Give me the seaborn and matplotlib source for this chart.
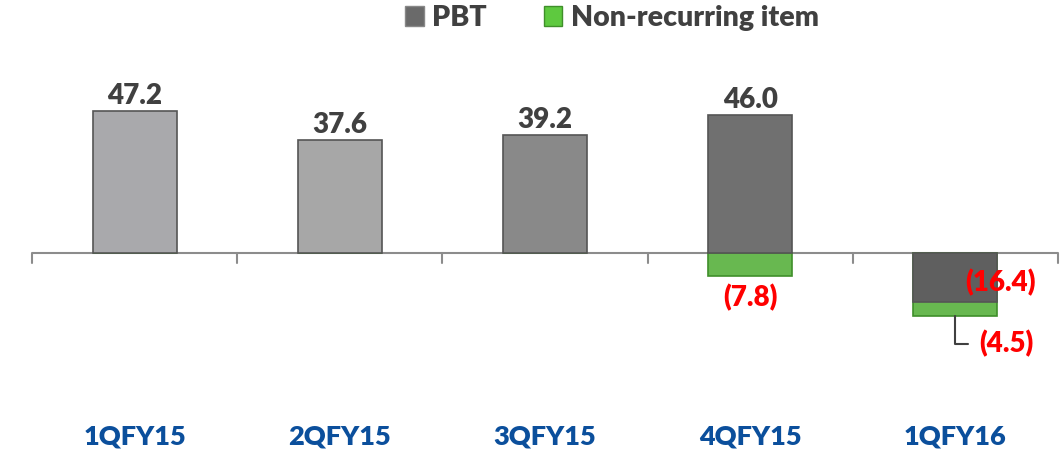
import matplotlib
matplotlib.use("Agg")
import matplotlib.pyplot as plt
from matplotlib.patches import Patch
import seaborn as sns
import pandas as pd
import numpy as np

categories = ["1QFY15", "2QFY15", "3QFY15", "4QFY15", "1QFY16"]
pbt = [47.2, 37.6, 39.2, 46.0, -16.4]
non_recurring = [0.0, 0.0, 0.0, -7.8, -4.5]
pbt_colors = ["#a9a9ac", "#a7a7a7", "#898989", "#707070", "#5f5f5f"]
green = "#5ec93f"

sns.set_theme(style="white")
plt.rcParams['font.family'] = ['Lato', 'DejaVu Sans']

df = pd.DataFrame({"cat": categories, "pbt": pbt, "nr": non_recurring})
df["nr_total"] = np.minimum(df["pbt"], 0) + df["nr"]

fig = plt.figure(figsize=(10.64, 4.54), dpi=100)
ax = fig.add_axes([32/1064, 1-400/454, (1058-32)/1064, (400-30)/454])

# green (non-recurring) stacked under the zero/negative PBT part
sns.barplot(data=df, x="cat", y="nr_total", color=green, width=0.41,
            edgecolor="#3f8f2a", linewidth=1.2, ax=ax, zorder=2)
sns.barplot(data=df, x="cat", y="pbt", hue="cat", palette=pbt_colors, legend=False,
            width=0.41, edgecolor="#555555", linewidth=1.2, ax=ax, zorder=3)

ax.set_ylim(-49, 74.33)
ax.set_xlim(-0.5, 4.5)
ax.axhline(0, color="#8c8c8c", lw=1.5, zorder=1)
for s in ax.spines.values():
    s.set_visible(False)
ax.set_yticks([])
ax.set_xlabel("")
ax.set_ylabel("")
ax.set_xticks([])
# category boundary tick marks
for b in np.arange(-0.5, 5.0, 1.0):
    ax.plot([b, b], [0, -3.2], color="#8c8c8c", lw=1.5, zorder=1, clip_on=False)

# category labels
for i, c in enumerate(categories):
    ax.text(i, -61.2, c, ha="center", va="center", color="#0b4f9c",
            fontsize=19.5, fontweight="heavy", clip_on=False)

# value labels
dark = "#404040"
red = "#ff0000"
fs = 20
for i in range(4):
    ax.text(i, pbt[i] + 0.8, f"{pbt[i]:.1f}", ha="center", va="bottom",
            color=dark, fontsize=fs, fontweight="heavy")
ax.text(3, non_recurring[3] - 2.5, f"({abs(non_recurring[3]):.1f})", ha="center", va="top",
        color=red, fontsize=fs, fontweight="heavy")
ax.text(4.22, pbt[4] + 6.6, f"({abs(pbt[4]):.1f})", ha="center", va="center",
        color=red, fontsize=fs, fontweight="heavy", zorder=5)
nr_bottom = pbt[4] + non_recurring[4]
ax.plot([4.0, 4.0, 4.06], [nr_bottom, nr_bottom - 9.3, nr_bottom - 9.3], color="#404040", lw=1.5, zorder=4)
ax.text(4.25, nr_bottom - 9.3, f"({abs(non_recurring[4]):.1f})", ha="center", va="center",
        color=red, fontsize=fs, fontweight="heavy")

handles = [Patch(facecolor="#6a6a6a", edgecolor="#888888", label="PBT"),
           Patch(facecolor=green, edgecolor="#3f8f2a", label="Non-recurring item")]
fig.legend(handles=handles, loc="center", bbox_to_anchor=(612/1064, 1-18/454), ncol=2,
           frameon=False, prop={"size": 20.5, "weight": "heavy"}, labelcolor="#404040",
           handlelength=0.65, handleheight=0.65, handletextpad=0.3, columnspacing=2.0)

fig.savefig("out.png", dpi=100)
